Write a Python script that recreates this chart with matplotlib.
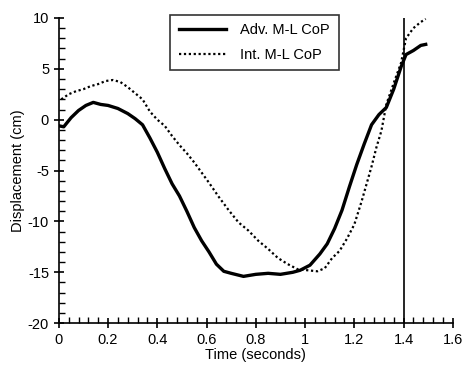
import matplotlib.pyplot as plt
from matplotlib.ticker import MultipleLocator

plt.rcParams['font.family'] = ['Liberation Sans', 'DejaVu Sans']
plt.rcParams['axes.unicode_minus'] = False

# Adv. M-L CoP (solid)
adv_t = [0.0, 0.02, 0.05, 0.08, 0.11, 0.14, 0.17, 0.20, 0.24, 0.28, 0.31, 0.34,
         0.37, 0.40, 0.43, 0.46, 0.49, 0.52, 0.55, 0.58, 0.61, 0.64, 0.67, 0.70,
         0.75, 0.80, 0.85, 0.90, 0.95, 0.98, 1.02, 1.06, 1.09, 1.12, 1.15, 1.18,
         1.21, 1.24, 1.27, 1.30, 1.33, 1.36, 1.39, 1.41, 1.44, 1.47, 1.49]
adv_y = [-0.6, -0.7, 0.2, 0.9, 1.4, 1.7, 1.5, 1.4, 1.1, 0.6, 0.1, -0.5,
         -1.8, -3.2, -4.8, -6.3, -7.5, -9.0, -10.6, -11.9, -13.0, -14.2, -14.9, -15.1,
         -15.4, -15.2, -15.1, -15.2, -15.0, -14.8, -14.3, -13.2, -12.2, -10.7, -8.9, -6.6,
         -4.4, -2.4, -0.5, 0.5, 1.2, 3.0, 5.2, 6.4, 6.8, 7.3, 7.4]

# Int. M-L CoP (dotted)
int_t = [0.01, 0.04, 0.07, 0.10, 0.13, 0.16, 0.19, 0.22, 0.25, 0.28, 0.31, 0.34,
         0.37, 0.40, 0.43, 0.46, 0.49, 0.52, 0.55, 0.58, 0.61, 0.65, 0.69, 0.73,
         0.77, 0.81, 0.85, 0.89, 0.93, 0.97, 1.01, 1.05, 1.08, 1.11, 1.14, 1.17,
         1.20, 1.23, 1.25, 1.27, 1.29, 1.31, 1.33, 1.36, 1.39, 1.41, 1.44, 1.47, 1.49]
int_y = [2.0, 2.5, 2.8, 3.0, 3.3, 3.5, 3.8, 3.9, 3.7, 3.2, 2.6, 2.0,
         0.8, 0.0, -0.6, -1.6, -2.5, -3.3, -4.2, -5.2, -6.2, -7.6, -8.9, -10.1,
         -10.9, -11.9, -12.7, -13.6, -14.2, -14.7, -14.8, -14.9, -14.6, -13.6, -12.9, -11.7,
         -10.3, -8.0, -6.3, -4.6, -2.7, -1.1, 1.5, 3.6, 5.6, 8.0, 9.0, 9.6, 9.9]

fig = plt.figure(figsize=(4.63, 3.66), dpi=100)
ax = fig.add_axes([0.127, 0.117, 0.851, 0.834])

ax.plot(adv_t, adv_y, color='black', linewidth=2.4, label='Adv. M-L CoP')
ax.plot(int_t, int_y, color='black', linewidth=1.6, linestyle=(0, (1, 1.2)),
        label='Int. M-L CoP')
ax.axvline(1.4, color='black', linewidth=1.2)

ax.set_xlim(0, 1.6)
ax.set_ylim(-20, 10)
ax.xaxis.set_major_locator(MultipleLocator(0.2))
ax.xaxis.set_minor_locator(MultipleLocator(0.04))
ax.yaxis.set_major_locator(MultipleLocator(5))
ax.yaxis.set_minor_locator(MultipleLocator(1))
ax.set_xticks([0, 0.2, 0.4, 0.6, 0.8, 1.0, 1.2, 1.4, 1.6])
ax.set_xticklabels(['0', '0.2', '0.4', '0.6', '0.8', '1', '1.2', '1.4', '1.6'])

for s in ['top', 'right']:
    ax.spines[s].set_visible(False)
for s in ['left', 'bottom']:
    ax.spines[s].set_linewidth(1.2)

ax.tick_params(which='major', direction='inout', length=7, width=1.2,
               labelsize=10.5)
ax.tick_params(which='minor', direction='in', length=4, width=1.0)

ax.set_xlabel('Time (seconds)', fontsize=10.5, labelpad=1)
ax.set_ylabel('Displacement (cm)', fontsize=10.5, labelpad=2)

leg = ax.legend(loc='upper center', bbox_to_anchor=(0.497, 1.025),
                fancybox=False, edgecolor='black', fontsize=10.5,
                handlelength=3.2, handletextpad=1.0, borderpad=0.6,
                borderaxespad=0.3, labelspacing=0.7)
leg.get_frame().set_linewidth(1.2)

plt.savefig('out.png', dpi=100)
plt.close()
